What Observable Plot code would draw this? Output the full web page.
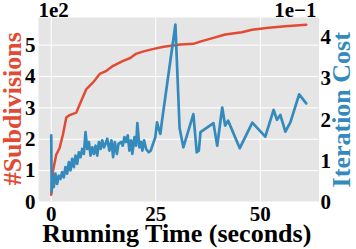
<!DOCTYPE html>
<html><head><meta charset="utf-8">
<script src="https://cdn.jsdelivr.net/npm/d3@7"></script>
<script src="https://cdn.jsdelivr.net/npm/@observablehq/plot@0.6"></script>
<style>
body{margin:0;background:#fff}
</style></head><body><div id="chart"></div>
<script>
// #Subdivisions (red, left axis, actual counts)
const subTime = [0, 0.4, 1.2, 2, 2.8, 3.6, 4.4, 6, 6.8, 8.4, 10, 11.6, 13.2, 14.8, 17.2, 18.9, 20.2, 22.1, 24.5, 26.9, 30.9, 34, 35.6, 38.8, 41.6, 45.6, 48, 52, 56, 61];
const subValues = [23, 98, 151, 172, 215, 269, 277, 285, 311, 360, 381, 408, 418, 434, 450, 459, 472, 480, 488, 495, 502, 504, 511, 523, 534, 541, 549, 555, 560, 565];

// Iteration Cost (blue, right axis, actual values)
const costTime = [0, 0.1, 0.24, 0.6, 1.0, 1.4, 1.8, 2.2, 2.6, 3.0, 3.4, 3.8, 4.2, 4.6, 5.0, 5.4, 5.8, 6.2, 6.6, 7.0, 7.4, 7.8, 8.2, 8.6, 9.0, 9.4, 9.8, 10.2, 10.6, 11.0, 11.4, 11.8, 12.2, 12.6, 13.0, 13.4, 13.9, 14.4, 14.8, 15.2, 15.7, 16.1, 16.7, 17.1, 17.5, 17.9, 18.3, 18.7, 19.1, 19.4, 19.9, 20.3, 20.6, 21.1, 21.5, 21.8, 22.2, 22.7, 23.3, 23.8, 24.5, 24.9, 25.3, 25.7, 26.1, 26.5, 29.7, 30.7, 31.6, 34.0, 34.8, 35.3, 35.7, 38.8, 39.7, 40.9, 41.6, 42.3, 45.1, 48.1, 51.2, 53.2, 54.0, 54.8, 56.0, 57.2, 59.3, 61.0];
const costValues = [0.162, 0.024, 0.064, 0.036, 0.069, 0.044, 0.064, 0.056, 0.073, 0.060, 0.085, 0.069, 0.097, 0.077, 0.105, 0.085, 0.113, 0.093, 0.121, 0.109, 0.129, 0.117, 0.170, 0.129, 0.146, 0.113, 0.133, 0.117, 0.137, 0.113, 0.146, 0.129, 0.150, 0.133, 0.142, 0.154, 0.125, 0.150, 0.109, 0.146, 0.117, 0.142, 0.146, 0.137, 0.158, 0.146, 0.162, 0.125, 0.150, 0.117, 0.158, 0.137, 0.192, 0.133, 0.146, 0.125, 0.150, 0.129, 0.121, 0.125, 0.146, 0.158, 0.194, 0.178, 0.166, 0.198, 0.432, 0.180, 0.133, 0.214, 0.121, 0.125, 0.170, 0.192, 0.137, 0.230, 0.186, 0.198, 0.131, 0.193, 0.159, 0.224, 0.200, 0.212, 0.171, 0.194, 0.262, 0.240];

const xTicks = [0, 25, 50];
const leftTicks = [0, 100, 200, 300, 400, 500];
const rightTicks = [0, 0.1, 0.2, 0.3, 0.4];
const leftMax = 588, rightMax = 0.449;
const k = leftMax / rightMax;

const subs = subTime.map((t, i) => ({t, v: subValues[i]}));
const cost = costTime.map((t, i) => ({t, v: costValues[i]}));

const ff = "Liberation Serif";
const red = "#E24A33", blue = "#348ABD";
const txt = {fontFamily: ff, fontWeight: "bold"};

const chart = Plot.plot({
  width: 356, height: 249,
  marginLeft: 38, marginRight: 37.5, marginTop: 17, marginBottom: 47.5,
  style: {fontFamily: ff, fontWeight: "bold", background: "white", overflow: "visible", color: "black"},
  x: {domain: [-3.05, 64.05]},
  y: {domain: [0, leftMax]},
  marks: [
    Plot.frame({fill: "#E5E5E5", stroke: null}),
    Plot.ruleX(xTicks, {stroke: "white", strokeWidth: 1}),
    Plot.ruleY(leftTicks, {stroke: "white", strokeWidth: 1}),
    Plot.line(subs, {x: "t", y: "v", stroke: red, strokeWidth: 2.5}),
    Plot.line(cost, {x: "t", y: d => d.v * k, stroke: blue, strokeWidth: 2.7}),
    Plot.axisX(xTicks, {...txt, tickSize: 0, tickPadding: 4, fontSize: 21, label: null}),
    Plot.axisY(leftTicks, {...txt, anchor: "left", tickSize: 0, tickPadding: 3, fontSize: 21, tickFormat: d => d / 100, label: null}),
    Plot.axisY(rightTicks.map(d => d * k), {...txt, anchor: "right", tickSize: 0, tickPadding: 1.5, fontSize: 21, tickFormat: d => Math.round(d / k * 10), label: null}),
    Plot.text(["1e2"], {...txt, frameAnchor: "top-left", textAnchor: "start", lineAnchor: "bottom", dy: -1, fontSize: 21}),
    Plot.text(["1e\u22121"], {...txt, frameAnchor: "top-right", textAnchor: "end", lineAnchor: "bottom", dx: -2.5, dy: -1, fontSize: 21}),
    Plot.text(["Running Time (seconds)"], {...txt, frameAnchor: "bottom", textAnchor: "middle", lineAnchor: "bottom", dx: -2, dy: 40, fontSize: 26}),
    Plot.text(["#Subdivisions"], {...txt, frameAnchor: "left", textAnchor: "middle", rotate: -90, lineAnchor: "bottom", dx: -17.5, dy: -1, fill: red, fontSize: 26}),
    Plot.text(["Iteration Cost"], {...txt, frameAnchor: "right", textAnchor: "middle", rotate: -90, lineAnchor: "bottom", dx: 30.5, fill: blue, fontSize: 26})
  ]
});
document.getElementById("chart").appendChild(chart);
</script>
</body></html>
